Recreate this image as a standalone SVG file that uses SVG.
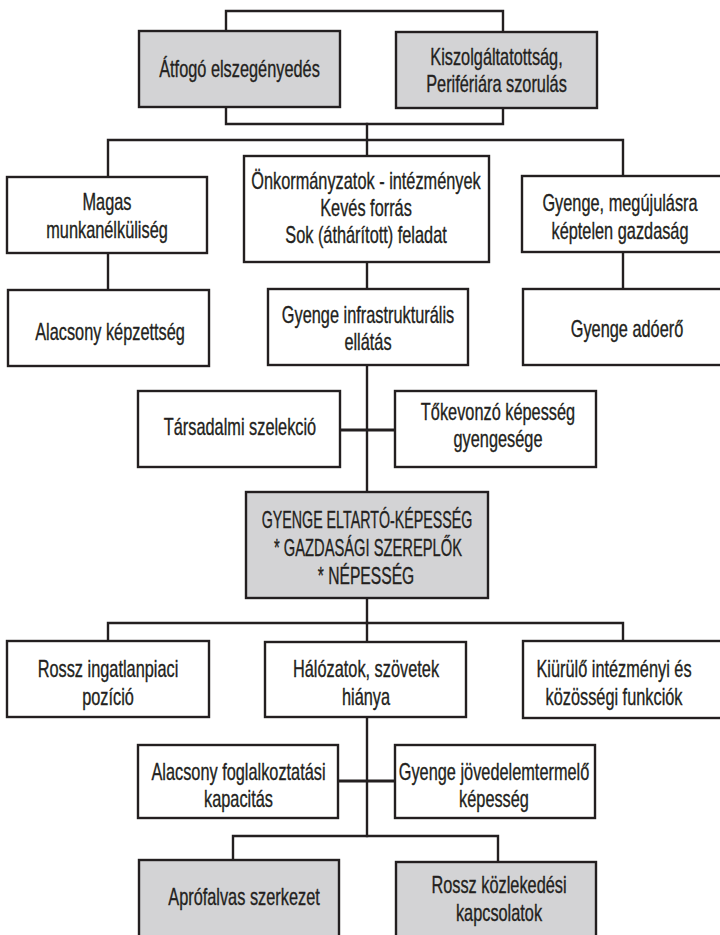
<svg xmlns="http://www.w3.org/2000/svg" width="720" height="935" viewBox="0 0 720 935">
<style>
.b{fill:#ffffff;stroke:#231f20;stroke-width:2.4}
.g{fill:#d3d3d5;stroke:#231f20;stroke-width:2.4}
.c{fill:none;stroke:#231f20;stroke-width:2.4;stroke-linecap:square}
.t{stroke-width:3.2}
text{font-family:'Liberation Sans',Arial,sans-serif;font-size:23px;fill:#231f20;stroke:#231f20;stroke-width:0.35;text-anchor:middle}
</style>
<rect width="720" height="935" fill="#ffffff"/>
<g id="connectors">
<path class="c" d="M226,31 V11 H503 V31"/>
<path class="c" d="M226,107 V124 H503 V107"/>
<path class="c" d="M367,124 V156"/>
<path class="c" d="M108,177 V140 H623 V176"/>
<path class="c" d="M108,253 V290"/>
<path class="c" d="M623,252 V289"/>
<path class="c" d="M367,262 V289"/>
<path class="c" d="M367,365 V492"/>
<path class="c t" d="M340,430 H395"/>
<path class="c" d="M367,598 V623"/>
<path class="c" d="M108,641 V623 H623 V641"/>
<path class="c" d="M367,623 V642"/>
<path class="c" d="M367,717 V836"/>
<path class="c t" d="M338,781 H395"/>
<path class="c" d="M233,860 V836 H498 V862"/>
</g>
<g id="n1"><rect class="g" x="139" y="31" width="201" height="76"/><text transform="translate(239.5 77) scale(0.71 1)">Átfogó elszegényedés</text></g>
<g id="n2"><rect class="g" x="396" y="32" width="201" height="76"/><text transform="translate(496.5 65) scale(0.71 1)">Kiszolgáltatottság,</text><text transform="translate(496.5 92) scale(0.71 1)">Perifériára szorulás</text></g>
<g id="n3"><rect class="b" x="7" y="177" width="200" height="76"/><text transform="translate(107 210) scale(0.71 1)">Magas</text><text transform="translate(107 238) scale(0.71 1)">munkanélküliség</text></g>
<g id="n4"><rect class="b" x="244" y="156" width="245" height="106"/><text transform="translate(366 189) scale(0.71 1)">Önkormányzatok - intézmények</text><text transform="translate(366 216) scale(0.71 1)">Kevés forrás</text><text transform="translate(366 243) scale(0.71 1)">Sok (áthárított) feladat</text></g>
<g id="n5"><rect class="b" x="522" y="176" width="205" height="76"/><text transform="translate(620 211) scale(0.71 1)">Gyenge, megújulásra</text><text transform="translate(620 239) scale(0.71 1)">képtelen gazdaság</text></g>
<g id="n6"><rect class="b" x="8" y="290" width="201" height="76"/><text transform="translate(110 340) scale(0.71 1)">Alacsony képzettség</text></g>
<g id="n7"><rect class="b" x="268" y="289" width="200" height="76"/><text transform="translate(368 323) scale(0.71 1)">Gyenge infrastrukturális</text><text transform="translate(368 350) scale(0.71 1)">ellátás</text></g>
<g id="n8"><rect class="b" x="523" y="289" width="204" height="76"/><text transform="translate(627 337) scale(0.71 1)">Gyenge adóerő</text></g>
<g id="n9"><rect class="b" x="138" y="391" width="202" height="76"/><text transform="translate(240 435) scale(0.71 1)">Társadalmi szelekció</text></g>
<g id="n10"><rect class="b" x="395" y="391" width="201" height="76"/><text transform="translate(498 420) scale(0.71 1)">Tőkevonzó képesség</text><text transform="translate(498 447) scale(0.71 1)">gyengesége</text></g>
<g id="n11"><rect class="g" x="246" y="492" width="242" height="106"/><text transform="translate(367 528) scale(0.62 1)">GYENGE ELTARTÓ-KÉPESSÉG</text><text transform="translate(368 556) scale(0.64 1)">* GAZDASÁGI SZEREPLŐK</text><text transform="translate(366 584) scale(0.68 1)">* NÉPESSÉG</text></g>
<g id="n12"><rect class="b" x="7" y="641" width="202" height="76"/><text transform="translate(108 677) scale(0.71 1)">Rossz ingatlanpiaci</text><text transform="translate(108 705) scale(0.71 1)">pozíció</text></g>
<g id="n13"><rect class="b" x="265" y="642" width="201" height="75"/><text transform="translate(366 677) scale(0.71 1)">Hálózatok, szövetek</text><text transform="translate(366 705) scale(0.71 1)">hiánya</text></g>
<g id="n14"><rect class="b" x="523" y="641" width="204" height="77"/><text transform="translate(614 677) scale(0.71 1)">Kiürülő intézményi és</text><text transform="translate(614 705) scale(0.71 1)">közösségi funkciók</text></g>
<g id="n15"><rect class="b" x="138" y="745" width="200" height="73"/><text transform="translate(238.5 780) scale(0.71 1)">Alacsony foglalkoztatási</text><text transform="translate(238.5 807) scale(0.71 1)">kapacitás</text></g>
<g id="n16"><rect class="b" x="395" y="745" width="200" height="73"/><text transform="translate(494 780) scale(0.71 1)">Gyenge jövedelemtermelő</text><text transform="translate(494 807) scale(0.71 1)">képesség</text></g>
<g id="n17"><rect class="g" x="139" y="860" width="200" height="90"/><text transform="translate(244 905) scale(0.71 1)">Aprófalvas szerkezet</text></g>
<g id="n18"><rect class="g" x="396" y="862" width="200" height="88"/><text transform="translate(499 893) scale(0.71 1)">Rossz közlekedési</text><text transform="translate(499 921) scale(0.71 1)">kapcsolatok</text></g>
</svg>
